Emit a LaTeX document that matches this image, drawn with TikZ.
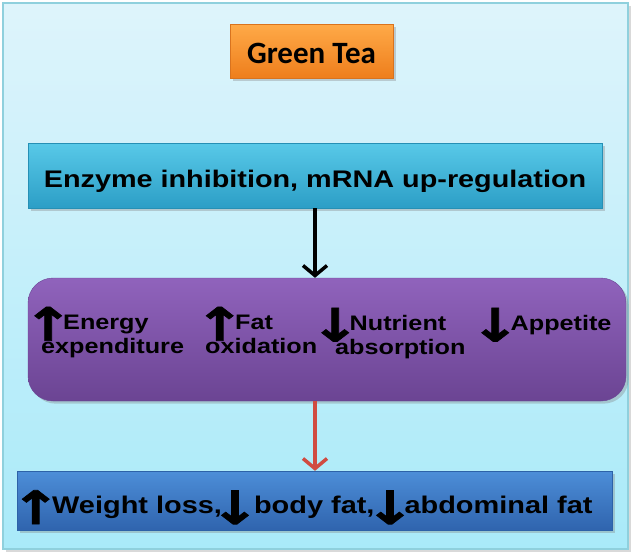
\documentclass[tikz,border=0pt]{standalone}
\usepackage{fontspec}
\setmainfont{Liberation Sans}[FakeStretch=1.2]
\newfontfamily\titlefont{Carlito}
\newfontfamily\arrowfont{DejaVu Sans}[FakeBold=1.5, FakeStretch=1.3]
\usepackage{tikz}
\usetikzlibrary{arrows.meta, positioning, shadows}
\definecolor{bgtop}{HTML}{DEF4FB}
\definecolor{bgbot}{HTML}{A9EAF9}
\definecolor{bgedge}{HTML}{8FD0DD}
\definecolor{teatop}{HTML}{FFAA48}
\definecolor{teabot}{HTML}{EE7E1C}
\definecolor{teaedge}{HTML}{D9731E}
\definecolor{enztop}{HTML}{58C9E8}
\definecolor{enzbot}{HTML}{2C9EC6}
\definecolor{enzedge}{HTML}{2690B5}
\definecolor{purtop}{HTML}{9063BC}
\definecolor{purbot}{HTML}{6B4493}
\definecolor{puredge}{HTML}{6A4594}
\definecolor{restop}{HTML}{4D8ED8}
\definecolor{resbot}{HTML}{2F64AE}
\definecolor{resedge}{HTML}{2D62A8}
\definecolor{redarrow}{HTML}{D04B41}
\tikzstyle{teabox} = [rectangle, minimum width=163pt, minimum height=54pt, draw=teaedge, top color=teatop, bottom color=teabot, text=black, text height=24pt, text depth=0pt, font=\titlefont\bfseries\fontsize{31}{31}\selectfont, drop shadow={opacity=0.35}]
\tikzstyle{enzbox} = [rectangle, minimum width=574pt, minimum height=65pt, draw=enzedge, top color=enztop, bottom color=enzbot, text=black, text height=23pt, text depth=0pt, font=\bfseries\fontsize{24}{24}\selectfont, drop shadow={opacity=0.35}]
\tikzstyle{effbox} = [rectangle, rounded corners=25pt, minimum width=598pt, minimum height=123pt, draw=puredge, top color=purtop, bottom color=purbot, drop shadow={opacity=0.35}]
\tikzstyle{resbox} = [rectangle, minimum width=595pt, minimum height=59pt, draw=resedge, top color=restop, bottom color=resbot, drop shadow={opacity=0.35}]
\tikzstyle{efftext} = [anchor=north west, inner sep=0pt, align=left, text=black, font=\bfseries\fontsize{21}{25}\selectfont]
\tikzstyle{restext} = [anchor=base west, inner sep=0pt, text=black, font=\bfseries\fontsize{24.1}{24.1}\selectfont]
\tikzstyle{arrow} = [line width=3.5pt, -{Straight Barb[length=10pt, width=24pt, line width=3.5pt]}]
% arrow glyph: box width, lowering
\newcommand{\upar}[2]{\makebox[#1][c]{\smash{\raisebox{#2}{\arrowfont\bfseries\fontsize{46}{46}\selectfont ↑}}}}
\newcommand{\dnar}[2]{\makebox[#1][c]{\smash{\raisebox{#2}{\arrowfont\bfseries\fontsize{46}{46}\selectfont ↓}}}}
\begin{document}
\begin{tikzpicture}[x=1pt, y=-1pt]
    \useasboundingbox (0,0) rectangle (633,558);

    % Background panel
    \shade[top color=bgtop, bottom color=bgbot, draw=bgedge, line width=1.5pt, drop shadow={opacity=0.3}] (3,3) rectangle (628,549);

    % Boxes
    \node (tea) [teabox] at (311.5,51) {Green Tea};
    \node (enzyme) [enzbox] at (315,175.5) {Enzyme inhibition, mRNA up-regulation};
    \node (effects) [effbox] at (327,339.5) {};
    \node (result) [resbox] at (314.5,500.5) {};

    % Effects inside the purple box
    \node (energy) [efftext] at (33,315) {\upar{30pt}{-11pt}Energy\\[-1pt]\hspace{8pt}expenditure};
    \node (fatox) [efftext] at (204,315) {\upar{31pt}{-11pt}Fat\\[-1pt]\hspace{1pt}oxidation};
    \node (nutrient) [efftext] at (320.5,315) {\dnar{29pt}{-11pt}Nutrient\\[-1pt]\hspace{14.5pt}absorption};
    \node (appetite) [efftext] at (479.5,315) {\dnar{31pt}{-11pt}Appetite};

    % Outcome
    \node (outcome) [restext] at (19,513) {\upar{33pt}{-11pt}Weight loss,\hspace{2pt}\dnar{22pt}{-11pt} body fat,\hspace{1pt}\dnar{29pt}{-11pt}abdominal fat};

    % Arrows
    \draw [arrow] (enzyme.south) -- (effects.north -| enzyme.south);
    \draw [arrow, redarrow] (effects.south -| enzyme.south) -- (result.north -| enzyme.south);

\end{tikzpicture}
\end{document}
